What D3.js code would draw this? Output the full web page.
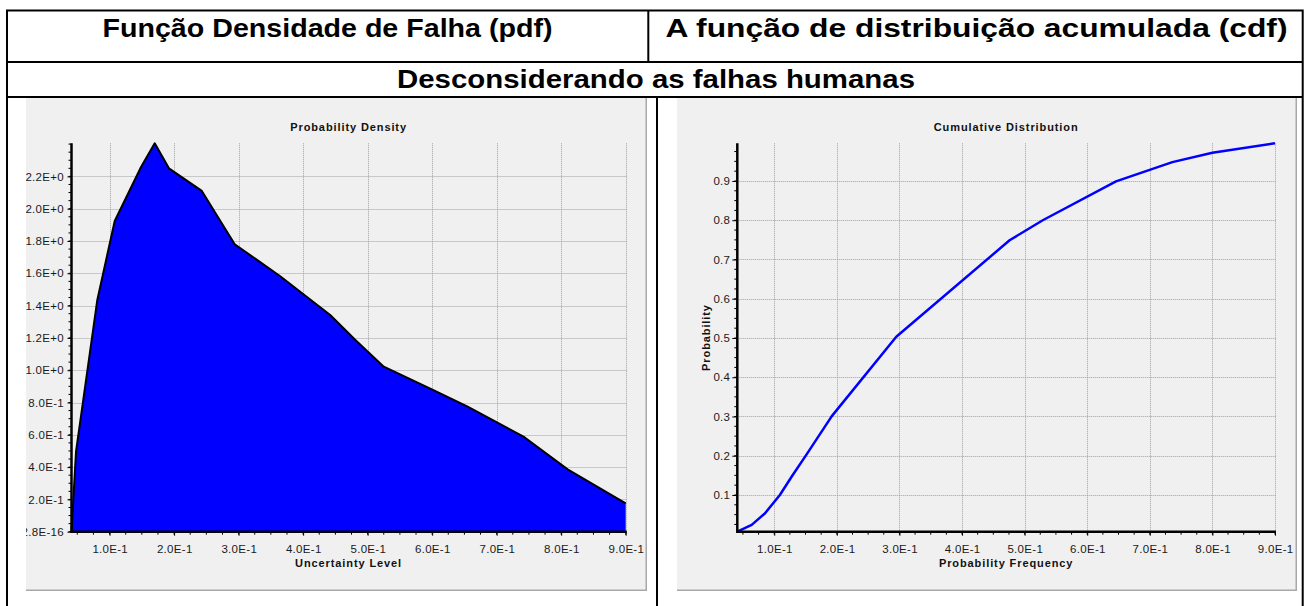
<!DOCTYPE html>
<html>
<head>
<meta charset="utf-8">
<script src="https://cdn.jsdelivr.net/npm/d3@7"></script>
<style>
  body { margin: 0; background: #ffffff; }
  svg { display: block; font-family: "Liberation Sans", Arial, sans-serif; }
</style>
</head>
<body>
<svg id="page" width="1309" height="606"></svg>
<script>
// ---- table texts ----
const headerTitles = ["Função Densidade de Falha (pdf)", "A função de distribuição acumulada (cdf)"];
const sectionTitle = "Desconsiderando as falhas humanas";

// ---- probability density (pdf) samples ----
const pdfX = [0.041, 0.048, 0.081, 0.108, 0.149, 0.170, 0.192, 0.243, 0.294, 0.364,
              0.442, 0.481, 0.525, 0.602, 0.655, 0.743, 0.810, 0.900];
const pdfY = [0.000, 0.495, 1.435, 1.924, 2.260, 2.405, 2.250, 2.110, 1.780, 1.583,
              1.342, 1.187, 1.022, 0.877, 0.774, 0.585, 0.386, 0.176];

// ---- cumulative distribution (cdf) samples ----
const cdfX = [0.041, 0.064, 0.085, 0.109, 0.128, 0.152, 0.192, 0.295, 0.476, 0.529,
              0.646, 0.736, 0.800, 0.900];
const cdfY = [0.0065, 0.024, 0.053, 0.100, 0.147, 0.204, 0.301, 0.503, 0.749, 0.800,
              0.899, 0.948, 0.972, 0.996];

// ---- tick values and labels ----
const xTickValues = [0.1, 0.2, 0.3, 0.4, 0.5, 0.6, 0.7, 0.8, 0.9];
const xTickLabels = ["1.0E-1", "2.0E-1", "3.0E-1", "4.0E-1", "5.0E-1", "6.0E-1", "7.0E-1", "8.0E-1", "9.0E-1"];
const pdfYTickValues = [0, 0.2, 0.4, 0.6, 0.8, 1.0, 1.2, 1.4, 1.6, 1.8, 2.0, 2.2];
const pdfYTickLabels = ["2.8E-16", "2.0E-1", "4.0E-1", "6.0E-1", "8.0E-1", "1.0E+0", "1.2E+0",
                        "1.4E+0", "1.6E+0", "1.8E+0", "2.0E+0", "2.2E+0"];
const cdfYTickValues = [0.1, 0.2, 0.3, 0.4, 0.5, 0.6, 0.7, 0.8, 0.9];
const cdfYTickLabels = ["0.1", "0.2", "0.3", "0.4", "0.5", "0.6", "0.7", "0.8", "0.9"];

const svg = d3.select("#page");

// ---- table frame (open at the bottom edge of the page) ----
const frame = svg.append("g").attr("stroke", "#000").attr("stroke-width", 2).attr("fill", "none");
frame.append("path").attr("d", "M7,606V10.5H1302.7V606");
frame.append("line").attr("x1", 7).attr("x2", 1302.7).attr("y1", 62).attr("y2", 62);
frame.append("line").attr("x1", 7).attr("x2", 1302.7).attr("y1", 97).attr("y2", 97);
frame.append("line").attr("x1", 648.3).attr("x2", 648.3).attr("y1", 10.5).attr("y2", 62);
frame.append("line").attr("x1", 657).attr("x2", 657).attr("y1", 97).attr("y2", 606);

// header cells: centre x and rendered width of each caption
const headerCenters = [327.5, 976.5];
const headerWidths = [450, 622];
svg.selectAll("text.head").data(headerTitles).join("text")
  .attr("class", "head")
  .attr("x", (d, i) => headerCenters[i] - headerWidths[i] / 2)
  .attr("y", 37)
  .attr("textLength", (d, i) => headerWidths[i])
  .attr("lengthAdjust", "spacingAndGlyphs")
  .attr("font-size", 25).attr("font-weight", "bold")
  .text(d => d);

svg.append("text")
  .attr("x", 397).attr("y", 88)
  .attr("textLength", 518)
  .attr("lengthAdjust", "spacingAndGlyphs")
  .attr("font-size", 25).attr("font-weight", "bold")
  .text(sectionTitle);

// ---- chart panel helper ----
function drawPanel(opt) {
  const g = svg.append("g");
  const clipId = "clip-" + opt.id;
  g.append("clipPath").attr("id", clipId)
    .append("rect").attr("x", opt.panel[0]).attr("y", opt.panel[1])
    .attr("width", opt.panel[2] - opt.panel[0]).attr("height", opt.panel[3] - opt.panel[1]);

  const body = g.append("g").attr("clip-path", `url(#${clipId})`);
  body.append("rect")
    .attr("x", opt.panel[0]).attr("y", opt.panel[1])
    .attr("width", opt.panel[2] - opt.panel[0]).attr("height", opt.panel[3] - opt.panel[1])
    .attr("fill", "#f0f0f0");
  // panel edge shading
  body.append("path")
    .attr("d", `M${opt.panel[2] - 0.75},${opt.panel[1]}V${opt.panel[3] - 0.75}H${opt.panel[0]}`)
    .attr("fill", "none").attr("stroke", "#a8a8a8").attr("stroke-width", 1.5);

  const [L, T, R, B] = opt.plot;
  const x = d3.scaleLinear().domain(d3.extent(opt.xs)).range([L, R]);
  const y = d3.scaleLinear().domain([opt.yMin, d3.max(opt.ys)]).range([B, T]);

  // dotted grid
  const grid = body.append("g").attr("stroke", "#a0a0a0").attr("stroke-width", 1)
    .attr("stroke-dasharray", "1,1");
  grid.selectAll("line.v").data(opt.xTicks).join("line").attr("class", "v")
    .attr("x1", d => Math.round(x(d)) + 0.5).attr("x2", d => Math.round(x(d)) + 0.5)
    .attr("y1", T).attr("y2", B);
  grid.selectAll("line.h").data(opt.yTicks).join("line").attr("class", "h")
    .attr("x1", L).attr("x2", R + 1)
    .attr("y1", d => Math.round(y(d)) + 0.5).attr("y2", d => Math.round(y(d)) + 0.5);

  // data marks
  opt.drawMarks(body, x, y);

  // axes
  const xAxis = d3.axisBottom(x).tickValues(opt.xTicks)
    .tickFormat((d, i) => opt.xLabels[i]).tickSize(4).tickPadding(9);
  const yAxis = d3.axisLeft(y).tickValues(opt.yTicks)
    .tickFormat((d, i) => opt.yLabels[i]).tickSize(opt.yTickSize).tickPadding(opt.yPad);

  const xMinor = d3.range(0, 0.9001, 0.025).filter(v => v >= x.domain()[0] && v <= x.domain()[1]);
  const yMinor = d3.range(0, y.domain()[1], opt.yMinorStep).filter(v => v >= y.domain()[0]);

  const minor = body.append("g").attr("stroke", "#000").attr("stroke-width", 1);
  minor.selectAll("line.mx").data(xMinor).join("line").attr("class", "mx")
    .attr("x1", d => x(d)).attr("x2", d => x(d)).attr("y1", B).attr("y2", B + 3);
  minor.selectAll("line.my").data(yMinor).join("line").attr("class", "my")
    .attr("x1", L - 3).attr("x2", L).attr("y1", d => y(d)).attr("y2", d => y(d));

  const gx = body.append("g").attr("transform", `translate(0,${B})`).call(xAxis);
  const gy = body.append("g").attr("transform", `translate(${L},0)`).call(yAxis);
  [gx, gy].forEach(a => {
    a.select(".domain").remove();
    a.selectAll("text").attr("font-family", "'Liberation Sans', Arial, sans-serif")
      .attr("font-size", 11.5).attr("letter-spacing", 0.3).attr("fill", "#1a1a1a");
    a.selectAll("line").attr("stroke", "#000").attr("stroke-width", 1);
  });
  gx.selectAll("text").attr("dx", 0.15);

  // main axis lines
  body.append("line").attr("x1", L).attr("x2", R + 1).attr("y1", B).attr("y2", B)
    .attr("stroke", "#000").attr("stroke-width", 2.5);
  body.append("line").attr("x1", L).attr("x2", L).attr("y1", T).attr("y2", B + 1.2)
    .attr("stroke", "#000").attr("stroke-width", 2.5);

  // titles
  const cx = (L + R) / 2;
  const bold = sel => sel.attr("text-anchor", "middle").attr("font-size", 11)
    .attr("font-weight", "bold").attr("letter-spacing", 0.9).attr("fill", "#111");
  body.append("text").attr("x", cx).attr("y", 131).call(bold).text(opt.title);
  body.append("text").attr("x", cx).attr("y", 567).call(bold).text(opt.xTitle);
  if (opt.yTitle) {
    body.append("text")
      .attr("transform", `translate(${opt.yTitleX},${(T + B) / 2}) rotate(-90)`)
      .call(bold).text(opt.yTitle);
  }
}

// ---- pdf panel ----
drawPanel({
  id: "pdf",
  panel: [26, 98, 647, 591],
  plot: [71.5, 143.3, 625.7, 531.7],
  xs: pdfX, ys: pdfY, yMin: 0,
  xTicks: xTickValues, xLabels: xTickLabels,
  yTicks: pdfYTickValues, yLabels: pdfYTickLabels,
  yTickSize: 4, yPad: 3.5, yMinorStep: 0.05,
  title: "Probability Density",
  xTitle: "Uncertainty Level",
  drawMarks: (g, x, y) => {
    const pts = pdfX.map((v, i) => [v, pdfY[i]]);
    g.append("path").datum(pts)
      .attr("fill", "#0000ff")
      .attr("d", d3.area().x(d => x(d[0])).y0(y(0)).y1(d => y(d[1])));
    g.append("path").datum(pts)
      .attr("fill", "none").attr("stroke", "#000").attr("stroke-width", 2)
      .attr("stroke-linejoin", "round")
      .attr("d", d3.line().x(d => x(d[0])).y(d => y(d[1])));
  }
});

// ---- cdf panel ----
drawPanel({
  id: "cdf",
  panel: [677, 98, 1297, 591],
  plot: [737.3, 143.3, 1275, 531.7],
  xs: cdfX, ys: cdfY, yMin: cdfY[0],
  xTicks: xTickValues, xLabels: xTickLabels,
  yTicks: cdfYTickValues, yLabels: cdfYTickLabels,
  yTickSize: 5, yPad: 2, yMinorStep: 0.025,
  title: "Cumulative Distribution",
  xTitle: "Probability Frequency",
  yTitle: "Probability", yTitleX: 710,
  drawMarks: (g, x, y) => {
    const pts = cdfX.map((v, i) => [v, cdfY[i]]);
    g.append("path").datum(pts)
      .attr("fill", "none").attr("stroke", "#0000ff").attr("stroke-width", 2.5)
      .attr("stroke-linejoin", "round")
      .attr("d", d3.line().x(d => x(d[0])).y(d => y(d[1])));
  }
});
</script>
</body>
</html>
